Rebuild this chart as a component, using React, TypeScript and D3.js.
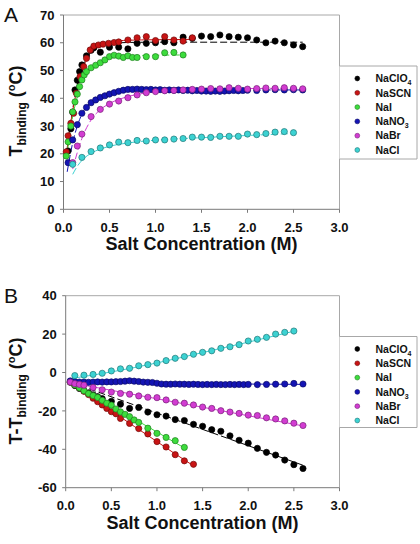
import React from "react";
import * as d3 from "d3";

type P = [number, number];

const LEGEND_LABELS: [string, string][] = [
  ["NaClO", "4"],
  ["NaSCN", ""],
  ["NaI", ""],
  ["NaNO", "3"],
  ["NaBr", ""],
  ["NaCl", ""],
];
const COLORS = ["#000000", "#c81414", "#3cdc3c", "#1414b4", "#d23cd2", "#3cd2d2"];
const X_TICKS = [0, 0.5, 1, 1.5, 2, 2.5, 3];
const Y_TICKS_A = [0, 10, 20, 30, 40, 50, 60, 70];
const Y_TICKS_B = [-60, -40, -20, 0, 20, 40];

// ---------- Panel A : T_binding ----------
const A_NACLO4: P[] = [[0.05,21],[0.08,29],[0.1,35],[0.125,43],[0.15,46.5],[0.175,49.6],[0.2,52],[0.25,55.3],[0.3,57.3],[0.33,58.2],[0.4,56.6],[0.5,58.4],[0.6,58.4],[0.7,57.8],[0.8,59.8],[0.9,59.8],[1.0,60],[1.1,60.4],[1.2,60],[1.3,62],[1.4,61.6],[1.5,62.4],[1.6,62.2],[1.7,62.8],[1.8,62.2],[1.9,62],[2.0,61.8],[2.1,61],[2.2,60],[2.3,60.6],[2.4,60],[2.5,59.2],[2.6,58.6]];
const A_NACLO4_FIT: P[] = [[0.03,19],[0.06,27],[0.1,36],[0.15,45],[0.2,51],[0.25,54.5],[0.3,56.8],[0.4,58.8],[0.5,59.6],[0.7,60.1],[1.0,60.2],[2.6,60.2]];
const A_NASCN: P[] = [[0.03,20.7],[0.05,26.5],[0.08,31],[0.11,34.6],[0.14,41.8],[0.18,47.8],[0.22,51.4],[0.25,54.4],[0.29,57.4],[0.33,58.8],[0.38,59.2],[0.43,59.5],[0.49,59.8],[0.55,60.1],[0.6,60.3],[0.7,61],[0.8,61.8],[0.9,62.2],[1.0,60.8],[1.1,62.2],[1.2,61],[1.3,60.6],[1.4,61.8]];
const A_NASCN_FIT: P[] = [[0.03,19.5],[0.06,27],[0.1,35.5],[0.15,43.5],[0.2,49.5],[0.25,53.8],[0.3,56.8],[0.4,59.4],[0.5,60.3],[0.7,60.9],[1.0,61.1],[1.4,61.2]];
const A_NAI: P[] = [[0.03,19.2],[0.05,24.3],[0.08,30],[0.1,35.1],[0.125,38.7],[0.15,41.5],[0.175,44.2],[0.2,46.6],[0.225,48.4],[0.25,49.6],[0.3,51],[0.35,51.9],[0.4,52.8],[0.45,53.8],[0.5,55],[0.55,55.5],[0.6,55.2],[0.65,54.7],[0.7,55.3],[0.75,54.7],[0.8,54.7],[0.9,55],[1.0,55],[1.1,56.4],[1.2,56.5],[1.3,55.6]];
const A_NAI_FIT: P[] = [[0.03,18],[0.06,25],[0.1,33.5],[0.15,40.5],[0.2,45.5],[0.25,48.8],[0.3,51],[0.4,53.3],[0.5,54.5],[0.7,55.3],[1.0,55.5],[1.3,55.6]];
const A_NANO3: P[] = [[0.05,16.8],[0.1,25],[0.15,30.5],[0.2,34.6],[0.25,36.7],[0.3,38.4],[0.35,39.4],[0.4,40.3],[0.45,40.9],[0.5,41.5],[0.55,42],[0.6,42.5],[0.65,42.9],[0.7,43.2],[0.75,43.2],[0.8,43.3],[0.85,43.2],[0.9,43.1],[0.95,43.2],[1.0,43.0],[1.05,43.1],[1.1,42.9],[1.15,43.0],[1.2,42.9],[1.25,43.0],[1.3,42.8],[1.35,42.9],[1.4,42.7],[1.45,42.8],[1.5,42.6],[1.55,42.6],[1.6,42.5],[1.65,42.6],[1.7,42.5],[1.75,42.6],[1.8,42.7],[1.85,42.8],[1.9,42.7],[1.95,42.8],[2.0,42.9],[2.1,42.8],[2.2,43.0],[2.3,43.1],[2.4,43.0],[2.5,43.1],[2.6,43.0]];
const A_NANO3_FIT: P[] = [[0.04,13.5],[0.07,19],[0.1,24],[0.15,30],[0.2,34.3],[0.3,38.6],[0.4,40.7],[0.5,41.8],[0.7,42.7],[1.0,43],[2.6,43]];
const A_NABR: P[] = [[0.1,16.8],[0.15,22.8],[0.2,27.1],[0.3,33.4],[0.4,36],[0.5,37.9],[0.6,39],[0.7,40.2],[0.8,41.2],[0.9,42],[1.0,42.4],[1.1,42.7],[1.2,42.8],[1.3,43],[1.4,43.2],[1.5,43.3],[1.6,43.5],[1.7,43.4],[1.8,43.8],[1.9,43.6],[2.0,43.3],[2.1,43.5],[2.2,43.7],[2.3,43.6],[2.4,43.8],[2.5,43.6],[2.6,43.4]];
const A_NABR_FIT: P[] = [[0.1,14.5],[0.15,20.5],[0.2,25.5],[0.3,32.2],[0.4,35.9],[0.5,38.1],[0.7,40.6],[1.0,42.3],[1.5,43.2],[2.0,43.5],[2.6,43.6]];
const A_NACL: P[] = [[0.1,16.2],[0.2,18.7],[0.3,20.8],[0.4,22.1],[0.5,23.2],[0.6,24.2],[0.7,24],[0.8,24.8],[0.9,24.6],[1.0,25],[1.1,25],[1.2,25.3],[1.3,25.5],[1.4,26],[1.5,26],[1.6,25.9],[1.7,26.3],[1.8,26.3],[1.9,26.3],[2.0,27.1],[2.1,26.9],[2.2,27.3],[2.3,27.8],[2.4,28],[2.5,27.6]];
const A_NACL_FIT: P[] = [[0.1,12.6],[0.15,15.5],[0.2,17.6],[0.3,20.2],[0.4,21.7],[0.5,22.7],[0.7,23.9],[1.0,24.9],[1.5,25.8],[2.0,26.6],[2.5,27.3]];

// ---------- Panel B : T - T_binding ----------
const B_NACLO4: P[] = [[0.05,-5],[0.1,-6.8],[0.15,-8.3],[0.2,-9.5],[0.25,-10.6],[0.3,-11.6],[0.35,-12.6],[0.4,-13.6],[0.5,-15],[0.6,-16.5],[0.7,-18.7],[0.8,-18.2],[0.9,-20.6],[1.0,-22],[1.1,-22.7],[1.2,-24.5],[1.3,-25],[1.4,-27],[1.5,-28],[1.6,-29.8],[1.7,-30.6],[1.8,-33],[1.9,-35.3],[2.0,-36.8],[2.1,-39.5],[2.2,-41.6],[2.3,-43],[2.4,-45.6],[2.5,-48],[2.6,-50]];
const B_NACLO4_FIT: P[] = [[0.05,-5],[2.6,-48.3]];
const B_NASCN: P[] = [[0.05,-5],[0.1,-6.5],[0.15,-8],[0.2,-9.8],[0.25,-11.5],[0.3,-13.4],[0.35,-15.2],[0.4,-16.9],[0.45,-18.7],[0.5,-20.4],[0.55,-21.5],[0.6,-23.9],[0.7,-26.5],[0.8,-29.2],[0.9,-32],[1.0,-36],[1.1,-38.8],[1.2,-42.8],[1.3,-46],[1.4,-47.8]];
const B_NASCN_FIT: P[] = [[0.05,-5],[0.3,-13],[0.6,-23.2],[0.9,-32.8],[1.2,-42.4],[1.4,-48.6]];
const B_NAI: P[] = [[0.05,-5],[0.1,-6.5],[0.15,-8],[0.2,-9.5],[0.25,-11],[0.3,-12],[0.35,-13],[0.4,-14.5],[0.45,-16],[0.5,-17],[0.55,-19],[0.6,-20.5],[0.65,-21.8],[0.7,-23],[0.75,-24.7],[0.8,-26],[0.9,-29],[1.0,-31.7],[1.1,-33.8],[1.2,-35.5],[1.3,-39]];
const B_NAI_FIT: P[] = [[0.05,-5],[0.5,-17.3],[1.0,-31],[1.3,-39.3]];
const B_NANO3: P[] = [[0.05,-4.4],[0.1,-4.8],[0.15,-5],[0.2,-5],[0.25,-5.1],[0.3,-5],[0.35,-4.9],[0.4,-5],[0.45,-4.9],[0.5,-4.9],[0.55,-4.8],[0.6,-4.7],[0.65,-4.5],[0.7,-4.3],[0.75,-4.5],[0.8,-4.7],[0.85,-5],[0.9,-5.1],[0.95,-5.2],[1.0,-5.6],[1.05,-6],[1.1,-6.1],[1.15,-6.1],[1.2,-6],[1.25,-6.1],[1.3,-6.1],[1.35,-6.2],[1.4,-6.1],[1.45,-6.2],[1.5,-6.3],[1.55,-6.2],[1.6,-6.3],[1.65,-6.2],[1.7,-6.3],[1.75,-6.3],[1.8,-6.2],[1.85,-6.3],[1.9,-6.2],[1.95,-6.3],[2.0,-6.2],[2.1,-6.3],[2.2,-6.2],[2.3,-6.1],[2.4,-6.0],[2.5,-5.7],[2.6,-6.0]];
const B_NANO3_FIT: P[] = [[0.05,-4.6],[1.0,-5.5],[2.6,-6.2]];
const B_NABR: P[] = [[0.05,-5],[0.1,-5.8],[0.15,-6.2],[0.2,-6.6],[0.3,-7.8],[0.4,-9],[0.5,-10.2],[0.6,-10.9],[0.7,-11.3],[0.8,-12.2],[0.9,-12.9],[1.0,-13.1],[1.1,-14.3],[1.2,-15.5],[1.3,-16],[1.4,-16.9],[1.5,-18],[1.6,-18.7],[1.7,-19.9],[1.8,-20.6],[1.9,-21.3],[2.0,-22.2],[2.1,-22.4],[2.2,-23.6],[2.3,-24.2],[2.4,-25.2],[2.5,-26.4],[2.6,-27.6]];
const B_NABR_FIT: P[] = [[0.05,-5.3],[2.6,-27.8]];
const B_NACL: P[] = [[0.1,-1.6],[0.2,-1.4],[0.3,-1],[0.4,-0.4],[0.5,0.8],[0.6,1.9],[0.7,2.2],[0.8,3.5],[0.9,4.1],[1.0,4.9],[1.1,6.2],[1.2,7.4],[1.3,8.3],[1.4,9.5],[1.5,10.5],[1.6,11.3],[1.7,12.6],[1.8,13.4],[1.9,14.5],[2.0,16.4],[2.1,17.3],[2.2,18.3],[2.3,20],[2.4,20.9],[2.5,21.6]];
const B_NACL_FIT: P[] = [[0.05,-3.2],[0.5,0.3],[1.0,5],[1.5,10.4],[2.0,15.8],[2.5,21.5]];

const A_DOTS = [A_NACLO4, A_NASCN, A_NAI, A_NANO3, A_NABR, A_NACL];
const A_FITS = [A_NACLO4_FIT, A_NASCN_FIT, A_NAI_FIT, A_NANO3_FIT, A_NABR_FIT, A_NACL_FIT];
const A_DASHED = [true, false, true, true, true, true];
const B_DOTS = [B_NACLO4, B_NASCN, B_NAI, B_NANO3, B_NABR, B_NACL];
const B_FITS = [B_NACLO4_FIT, B_NASCN_FIT, B_NAI_FIT, B_NANO3_FIT, B_NABR_FIT, B_NACL_FIT];
const B_DASHED = [true, false, false, false, false, false];

const FONT = "Arial, 'Liberation Sans', Helvetica, sans-serif";
const AXIS = "#7a7a7a";
const FRAME = "#a8a8a8";

function darker(c: string) {
  const col = d3.color(c);
  return col ? col.darker(1.6).formatHex() : "#000";
}

type PanelProps = {
  x: d3.ScaleLinear<number, number>;
  y: d3.ScaleLinear<number, number>;
  yTicks: number[];
  dots: P[][];
  fits: P[][];
  dashed: boolean[];
  legendTop: number;
  legendBottom: number;
  label: string;
  labelY: number;
  titleY: number;
  prefix: string;
};

function Panel(p: PanelProps) {
  const [x0, x1] = p.x.range();
  const [yb, yt] = p.y.range();
  const line = d3
    .line<P>()
    .x((d) => p.x(d[0]))
    .y((d) => p.y(d[1]))
    .curve(d3.curveMonotoneX);
  const xMid = (x0 + x1) / 2;
  return (
    <g fontFamily={FONT}>
      {/* frame */}
      <line x1={x0} x2={x1} y1={yt} y2={yt} stroke={FRAME} strokeWidth={1} />
      <line x1={x1} x2={x1} y1={yt} y2={yb} stroke={FRAME} strokeWidth={1} />
      <line x1={x0} x2={x0} y1={yt} y2={yb} stroke={AXIS} strokeWidth={1} />
      <line x1={x0} x2={x1} y1={yb} y2={yb} stroke={AXIS} strokeWidth={1} />
      {/* y ticks */}
      {p.yTicks.map((t) => (
        <g key={"y" + t}>
          <line x1={x0 - 3.5} x2={x0} y1={p.y(t)} y2={p.y(t)} stroke={AXIS} />
          <text x={x0 - 9} y={p.y(t)} dy="0.36em" textAnchor="end" fontSize={13} fontWeight="bold" fill="#111">
            {t}
          </text>
        </g>
      ))}
      {/* x ticks */}
      {X_TICKS.map((t) => (
        <g key={"x" + t}>
          <line x1={p.x(t)} x2={p.x(t)} y1={yb} y2={yb + 3.5} stroke={AXIS} />
          <text x={p.x(t)} y={yb + 22.3} textAnchor="middle" fontSize={13} fontWeight="bold" fill="#111">
            {d3.format(".1f")(t)}
          </text>
        </g>
      ))}
      {/* fits and dots */}
      {p.fits.map((f, i) => (
        <path
          key={"f" + i}
          d={line(f) || ""}
          fill="none"
          stroke={COLORS[i]}
          strokeWidth={1}
          strokeDasharray={p.dashed[i] ? "7,3" : undefined}
        />
      ))}
      {p.dots.map((s, i) => (
        <g key={"d" + i}>
          {s.map((d, j) => (
            <circle
              key={j}
              cx={p.x(d[0])}
              cy={p.y(d[1])}
              r={3.1}
              fill={COLORS[i]}
              stroke={i === 0 ? "#000" : darker(COLORS[i])}
              strokeWidth={0.7}
            />
          ))}
        </g>
      ))}
      {/* legend */}
      <path
        d={`M${x1},${p.legendTop}H417V${p.legendBottom}H${x1}`}
        fill="#fff"
        stroke={FRAME}
        strokeWidth={1}
      />
      {LEGEND_LABELS.map((l, i) => {
        const ly = p.legendTop + 12.5 + i * 14.3;
        return (
          <g key={"l" + i}>
            <circle cx={357.3} cy={ly} r={2.4} fill={COLORS[i]} stroke={i === 0 ? "#000" : darker(COLORS[i])} strokeWidth={0.6} />
            <text x={375.5} y={ly} dy="0.36em" fontSize={10.5} fontWeight="bold" fill="#111">
              <tspan>{l[0]}</tspan>
              {l[1] ? (
                <tspan dy={3} fontSize={7}>
                  {l[1]}
                </tspan>
              ) : null}
            </text>
          </g>
        );
      })}
      {/* panel label */}
      <text x={4} y={p.labelY} fontSize={21} fill="#111">
        {p.label}
      </text>
      {/* x title */}
      <text x={xMid} y={yb + 41} textAnchor="middle" fontSize={18} fontWeight="bold" fill="#111">
        Salt Concentration (M)
      </text>
      {/* y title */}
      <text
        transform={`translate(21.5,${p.titleY}) rotate(-90)`}
        textAnchor="middle"
        fontSize={18}
        fontWeight="bold"
        fill="#111"
      >
        <tspan>{p.prefix}</tspan>
        <tspan dy={4} fontSize={12}>binding</tspan>
        <tspan dy={-4}> (</tspan>
        <tspan dy={-7} fontSize={11}>o</tspan>
        <tspan dy={7}>C)</tspan>
      </text>
    </g>
  );
}

export default function App() {
  const xA = d3.scaleLinear().domain([0, 3]).range([63.5, 339.5]);
  const yA = d3.scaleLinear().domain([0, 70]).range([209.3, 15]);
  const xB = d3.scaleLinear().domain([0, 3]).range([65.7, 339.5]);
  const yB = d3.scaleLinear().domain([-60, 40]).range([487.7, 295.7]);
  return (
    <div style={{ position: "absolute", left: 0, top: 0 }}>
      <svg width={420} height={544} viewBox="0 0 420 544" style={{ display: "block", background: "#fff" }}>
        <Panel
          x={xA}
          y={yA}
          yTicks={Y_TICKS_A}
          dots={A_DOTS}
          fits={A_FITS}
          dashed={A_DASHED}
          legendTop={66}
          legendBottom={159}
          label="A"
          labelY={22}
          titleY={111}
          prefix="T"
        />
        <Panel
          x={xB}
          y={yB}
          yTicks={Y_TICKS_B}
          dots={B_DOTS}
          fits={B_FITS}
          dashed={B_DASHED}
          legendTop={336.5}
          legendBottom={427.5}
          label="B"
          labelY={303}
          titleY={391}
          prefix="T-T"
        />
      </svg>
    </div>
  );
}
